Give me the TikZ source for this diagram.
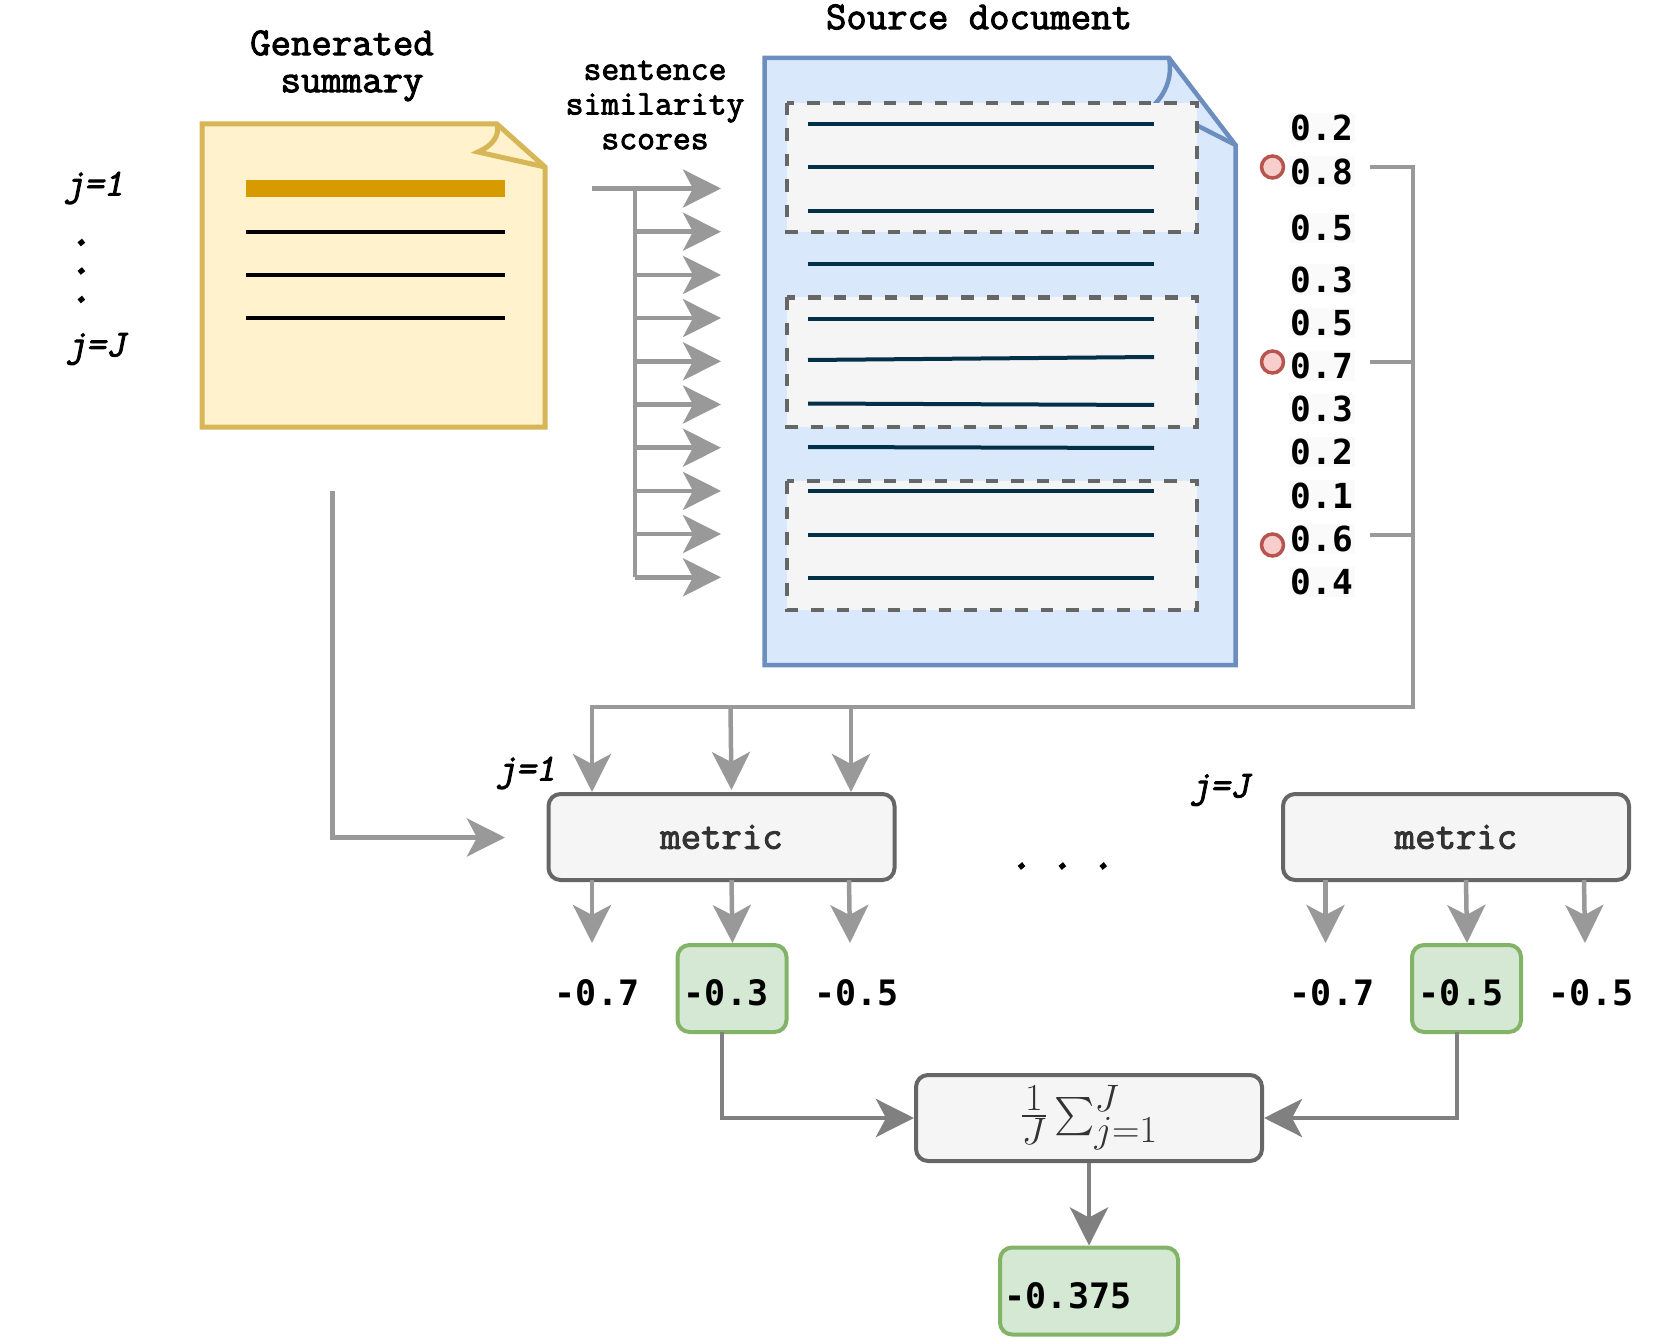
\documentclass[tikz,border=0pt]{standalone}
\usepackage{fontspec}
\usepackage{amsmath}
\usepackage{graphicx}
\usetikzlibrary{arrows.meta,positioning}
\newfontfamily\scorefont{DejaVu Sans Mono}
\newfontfamily\titlefont{Latin Modern Mono}[FakeBold=2.5]
\newfontfamily\indexfont{Latin Modern Mono}[FakeBold=2.5,FakeSlant=0.2]
\newfontfamily\dotfont{Latin Modern Mono}[FakeBold=8,FakeSlant=0.2]
\definecolor{linkgray}{HTML}{999999}
\definecolor{boxgray}{HTML}{666666}
\definecolor{sumgray}{HTML}{808080}
\definecolor{notefill}{HTML}{FFF2CC}
\definecolor{noteline}{HTML}{D6B656}
\definecolor{barfill}{HTML}{D79B00}
\definecolor{docfill}{HTML}{DAE8FC}
\definecolor{docline}{HTML}{6C8EBF}
\definecolor{sentline}{HTML}{023047}
\definecolor{greenfill}{HTML}{D5E8D4}
\definecolor{greenline}{HTML}{82B366}
\definecolor{redfill}{HTML}{F8CECC}
\definecolor{redline}{HTML}{B85450}

\begin{document}
\begin{tikzpicture}[x=1pt,y=-1pt,>={Stealth[length=38pt,width=38pt,inset=10pt]},node distance=43.2pt,
                        link/.style={color=linkgray,line width=4.5pt},
                        sumlink/.style={color=sumgray,line width=4.5pt},
                        title node/.style={inner sep=0pt,align=center,font=\titlefont\fontsize{39.6}{38}\selectfont},
                        small title/.style={inner sep=0pt,align=center,font=\titlefont\fontsize{34.7}{34.7}\selectfont},
                        index node/.style={inner sep=0pt,font=\indexfont\fontsize{38}{40}\selectfont},
                        dot node/.style={inner sep=0pt,align=center,font=\dotfont\fontsize{34}{28.5}\selectfont},
                        score node/.style={inner sep=2pt,fill=black!2,font=\scorefont\bfseries\fontsize{34.5}{40}\selectfont},
                        value node/.style={inner sep=0pt,font=\scorefont\bfseries\fontsize{35}{40}\selectfont},
                        metric box/.style={rounded corners=12pt,draw=boxgray,fill=black!4,line width=4pt,minimum width=346pt,minimum height=86pt,inner sep=0pt,text=black!80,font=\titlefont\fontsize{39.6}{40}\selectfont},
                        green box/.style={rounded corners=12pt,draw=greenline,fill=greenfill,line width=4pt,minimum height=87pt,inner sep=0pt},
                        pick/.style={circle,draw=redline,fill=redfill,line width=3.5pt,minimum size=22pt,inner sep=0pt},
                        group box/.style={draw=boxgray,fill=black!4,line width=4.5pt,dash pattern=on 12.5pt off 13pt},
                        sentence/.style={draw=sentline,line width=4pt}]

      % margins
      \useasboundingbox (0,0) rectangle (1660,1337);

      % generated summary
      \draw[noteline,fill=notefill,line width=5pt] (202,124) -- (497,124) -- (545,167) -- (545,427) -- (202,427) -- cycle;
      \draw[noteline,line width=5pt] (497,124) .. controls (500,136) and (492,146) .. (478,152) -- (545,167);
      \fill[barfill] (246,180) rectangle (505,197);
      \draw[line width=4pt] (246,232) -- (505,232);
      \draw[line width=4pt] (246,275) -- (505,275);
      \draw[line width=4pt] (246,318) -- (505,318);

      % source document
      \draw[docline,fill=docfill,line width=4.5pt] (764.5,58) -- (1169,58) -- (1235.5,145) -- (1235.5,665) -- (764.5,665) -- cycle;
      \draw[docline,line width=4.5pt] (1169,58) .. controls (1172,74) and (1168,90) .. (1155,104) -- (1235.5,145);
      \draw[group box] (787,103) rectangle (1197,232);
      \draw[group box] (787,297.5) rectangle (1197,427);
      \draw[group box] (787,481) rectangle (1197,610);
      \draw[sentence] (808,124) -- (1154,124);
      \draw[sentence] (808,167) -- (1154,167);
      \draw[sentence] (808,211) -- (1154,211);
      \draw[sentence] (808,264) -- (1154,264);
      \draw[sentence] (808,319) -- (1154,319);
      \draw[sentence] (808,360) -- (1154,357);
      \draw[sentence] (808,403.5) -- (1154,405);
      \draw[sentence] (808,447) -- (1154,448);
      \draw[sentence] (808,491) -- (1154,491);
      \draw[sentence] (808,535) -- (1154,535);
      \draw[sentence] (808,578) -- (1154,578);

      % texts at the top
      \node[title node] (gen) at (342,43) {Generated};
      \node[title node,xshift=10pt,node distance=45pt] (summ) [below of=gen] {summary};
      \node[title node] (src) at (979,17) {Source document};
      \node[small title] (sim) at (655,105) {sentence\\similarity\\scores};
      \node[index node] (j1) at (94,188) {j=1};
      \node[index node] (jj) at (96,349) {j=J};
      \node[dot node] (vdots) at (81,271) {.\\.\\.};

      % arrows to the sentences
      \coordinate (in) at (592,188.5);
      \coordinate (a1) at (721,188.5);
      \coordinate[below of=a1] (a2);
      \coordinate[below of=a2] (a3);
      \coordinate[below of=a3] (a4);
      \coordinate[below of=a4] (a5);
      \coordinate[below of=a5] (a6);
      \coordinate[below of=a6] (a7);
      \coordinate[below of=a7] (a8);
      \coordinate[below of=a8] (a9);
      \coordinate[below of=a9] (a10);
      \coordinate (t1) at (635,188.5);
      \coordinate[below of=t1] (t2);
      \coordinate[below of=t2] (t3);
      \coordinate[below of=t3] (t4);
      \coordinate[below of=t4] (t5);
      \coordinate[below of=t5] (t6);
      \coordinate[below of=t6] (t7);
      \coordinate[below of=t7] (t8);
      \coordinate[below of=t8] (t9);
      \coordinate[below of=t9] (t10);
      \path[link]
        (in) edge[->] (a1)
        (t1) edge (t10)
        (t2) edge[->] (a2)
        (t3) edge[->] (a3)
        (t4) edge[->] (a4)
        (t5) edge[->] (a5)
        (t6) edge[->] (a6)
        (t7) edge[->] (a7)
        (t8) edge[->] (a8)
        (t9) edge[->] (a9)
        (t10) edge[->] (a10);

      % scores
      \node[score node] (s1) at (1322,128) {0.2};
      \node[score node] (s2) at (1322,171.5) {0.8};
      \node[score node] (s3) at (1322,227.6) {0.5};
      \node[score node] (s4) at (1322,279.5) {0.3};
      \node[score node] (s5) [below of=s4] {0.5};
      \node[score node] (s6) [below of=s5] {0.7};
      \node[score node] (s7) [below of=s6] {0.3};
      \node[score node] (s8) [below of=s7] {0.2};
      \node[score node] (s9) [below of=s8] {0.1};
      \node[score node] (s10) [below of=s9] {0.6};
      \node[score node] (s11) [below of=s10] {0.4};
      \node[pick] (p1) at (1272.5,167) {};
      \node[pick] (p2) at (1272.5,362) {};
      \node[pick] (p3) at (1272.5,545) {};

      % metric boxes
      \node[metric box] (m1) at (721.5,837) {metric};
      \node[metric box] (m2) at (1456,837) {metric};
      \node[index node] (j2) at (526,773) {j=1};
      \node[index node] (j3) at (1220,790) {j=J};
      \node[dot node] (hdots) at (1062,866) {. . .};

      % picked scores to the first metric
      \coordinate (b1) at (1370,167);
      \coordinate (b2) at (1370,362);
      \coordinate (b3) at (1370,535);
      \coordinate (r1) at (1413,167);
      \coordinate (r2) at (1413,362);
      \coordinate (r3) at (1413,535);
      \coordinate (r4) at (1413,707);
      \coordinate (u1) at (592,707);
      \coordinate (u2) at (730.5,707);
      \coordinate (u3) at (851,707);
      \coordinate (d1) at (592,792);
      \coordinate (d2) at (731.5,790);
      \coordinate (d3) at (851,792);
      \draw[link,->] (b1) -- (r1) -- (r4) -- (u1) -- (d1);
      \path[link]
        (b2) edge (r2)
        (b3) edge (r3)
        (u2) edge[->] (d2)
        (u3) edge[->] (d3);

      % summary to the first metric
      \coordinate (f1) at (332.5,491);
      \coordinate (f2) at (332.5,837.5);
      \coordinate (f3) at (505,837.5);
      \draw[link,->] (f1) -- (f2) -- (f3);

      % values
      \node[value node] (v1) at (597,993) {-0.7};
      \node[green box,minimum width=109pt] (g1) at (732,988.5) {};
      \node[value node] (v2) at (726,993) {-0.3};
      \node[value node] (v3) at (856.5,993) {-0.5};
      \node[value node] (v4) at (1332,993) {-0.7};
      \node[green box,minimum width=109pt] (g2) at (1466.5,988.5) {};
      \node[value node] (v5) at (1461,993) {-0.5};
      \node[value node] (v6) at (1591,993) {-0.5};

      \coordinate (o1) at (592,880);
      \coordinate (e1) at (592,943);
      \coordinate (o2) at (731.5,880);
      \coordinate (e2) at (732.5,943);
      \coordinate (o3) at (849,880);
      \coordinate (e3) at (850,943);
      \coordinate (o4) at (1325.5,880);
      \coordinate (e4) at (1325.5,943);
      \coordinate (o5) at (1466,880);
      \coordinate (e5) at (1467,943);
      \coordinate (o6) at (1584,880);
      \coordinate (e6) at (1585,943);
      \path[link]
        (o1) edge[->] (e1)
        (o2) edge[->] (e2)
        (o3) edge[->] (e3)
        (o4) edge[->] (e4)
        (o5) edge[->] (e5)
        (o6) edge[->] (e6);

      % mean over the summary sentences
      \node[metric box,text=black!80] (mean) at (1089,1118) {\resizebox{138pt}{!}{$\frac{1}{J}\sum_{j=1}^{J}$}};
      \node[green box,minimum width=178pt] (res) at (1089,1291) {};
      \node[value node] (v7) at (1068,1296) {-0.375};
      \coordinate (g1b) at (722,1032);
      \coordinate (g1c) at (722,1118);
      \coordinate (g2b) at (1457,1032);
      \coordinate (g2c) at (1457,1118);
      \draw[sumlink,->] (g1b) -- (g1c) -- (mean.west);
      \draw[sumlink,->] (g2b) -- (g2c) -- (mean.east);
      \path[sumlink] (mean) edge[->] (res);
    \end{tikzpicture}
\end{document}
